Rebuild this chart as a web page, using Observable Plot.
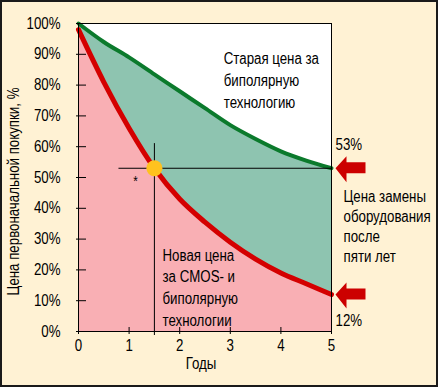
<!DOCTYPE html>
<html><head><meta charset="utf-8">
<script src="https://cdn.jsdelivr.net/npm/d3@7"></script>
<script src="https://cdn.jsdelivr.net/npm/@observablehq/plot@0.6"></script>
<style>
html,body{margin:0;padding:0;background:#FFF2D4;}
#wrap{position:relative;width:438px;height:387px;}
#border{position:absolute;left:0;top:0;width:438px;height:387px;box-sizing:border-box;border:2px solid #1a1a1a;pointer-events:none;}
</style></head><body><div id="wrap"><div id="chart"></div><div id="border"></div></div>
<script>
// ---- data ----
const years    = [0, 0.5, 1, 1.5, 2, 2.5, 3, 3.5, 4, 4.5, 5];
const oldPrice = [100, 94, 89, 83.5, 78, 72.5, 67, 62.5, 58.5, 55.5, 53];
const newPrice = [98, 81, 66, 53, 43, 35.5, 29, 23.5, 19, 15.5, 12];
const xTicks = [0, 1, 2, 3, 4, 5];
const yTicks = [0, 10, 20, 30, 40, 50, 60, 70, 80, 90, 100];
const markerX = 1.5, markerY = 53;
const endHigh = 53, endLow = 12;
const xLabel = "Годы";
const yLabel = "Цена первоначальной покупки, %";
const oldNote = "Старая цена за\nбиполярную\nтехнологию";
const newNote = "Новая цена\nза CMOS- и\nбиполярную\nтехнологии";
const sideNote = "Цена замены\nоборудования\nпосле\nпяти лет";

const rows = years.map((year, i) => ({year, oldPrice: oldPrice[i], newPrice: newPrice[i]}));

const FONT = '"Liberation Sans", Arial, sans-serif';
const PINK = "#F9AFB4", TEAL = "#8EC4B0", GREEN = "#0B7A2C", RED = "#D40000", ORANGE = "#FFC21E", ARROW = "#CC0000";
const curve = "monotone-x";

const arrowSymbol = {
  draw(ctx) {
    ctx.moveTo(0, 0); ctx.lineTo(11, -12); ctx.lineTo(11, -6); ctx.lineTo(30, -6);
    ctx.lineTo(30, 5); ctx.lineTo(11, 5); ctx.lineTo(11, 14); ctx.closePath();
  }
};

const chart = Plot.plot({
  width: 438, height: 387,
  marginLeft: 78, marginRight: 107, marginTop: 23, marginBottom: 56,
  style: {background: "#FFF2D4", fontFamily: FONT, fontSize: "16px", color: "#000", overflow: "visible"},
  x: {domain: [0, 5]},
  y: {domain: [0, 100]},
  marks: [
    Plot.frame({fill: "white", stroke: null}),
    Plot.areaY(rows, {x: "year", y: "newPrice", fill: PINK, curve}),
    Plot.areaY(rows, {x: "year", y1: "newPrice", y2: "oldPrice", fill: TEAL, curve}),
    Plot.line(rows, {x: "year", y: "oldPrice", stroke: GREEN, strokeWidth: 4, curve}),
    Plot.line(rows, {x: "year", y: "newPrice", stroke: RED, strokeWidth: 5, curve}),
    Plot.ruleY([markerY], {x1: 0.8, x2: 5, stroke: "black", strokeWidth: 1}),
    Plot.ruleX([markerX], {y1: 61, y2: -1.3, stroke: "black", strokeWidth: 1}),
    Plot.dot([markerY], {x: markerX, y: d => d, r: 8, fill: ORANGE, stroke: null}),
    Plot.text(["*"], {x: markerX, y: markerY, dx: -19, dy: 13, fontSize: 14}),
    Plot.frame({stroke: "black"}),
    Plot.axisY({ticks: yTicks, tickSize: 2, tickPadding: 16, tickFormat: d => d + "%", label: null}),
    Plot.axisY({ticks: yTicks, tickSize: -8, tickFormat: () => "", label: null}),
    Plot.axisX({ticks: xTicks, tickSize: 3, tickPadding: 5, tickFormat: d => String(d), label: null}),
    Plot.axisX({ticks: xTicks, tickSize: -4, tickFormat: () => "", label: null}),
    Plot.text([xLabel], {frameAnchor: "bottom", dx: -4, dy: 32, lineAnchor: "middle", textAnchor: "middle"}),
    Plot.text([yLabel], {frameAnchor: "left", rotate: -90, dx: -65, dy: 14, lineAnchor: "middle", textAnchor: "middle"}),
    Plot.text([oldNote], {x: 2.87, y: 91.8, textAnchor: "start", lineAnchor: "top", lineHeight: 1.37}),
    Plot.text([newNote], {x: 1.66, y: 28, textAnchor: "start", lineAnchor: "top", lineHeight: 1.36}),
    Plot.text([sideNote], {x: 5, y: 46.8, dx: 12, textAnchor: "start", lineAnchor: "top", lineHeight: 1.25}),
    Plot.text([endHigh], {x: 5, y: d => d, text: d => d + "%", dx: 4, dy: -23, textAnchor: "start", lineAnchor: "middle"}),
    Plot.text([endLow], {x: 5, y: d => d, text: d => d + "%", dx: 4, dy: 26, textAnchor: "start", lineAnchor: "middle"}),
    Plot.dot([endHigh, endLow], {x: 5, y: d => d, symbol: arrowSymbol, fill: ARROW, stroke: null, dx: 4})
  ]
});
document.getElementById("chart").appendChild(chart);

// condense the glyphs horizontally to mimic the narrow face of the original
const SQUEEZE = 0.83;
chart.querySelectorAll("text").forEach(t => {
  const spans = t.querySelectorAll("tspan");
  const targets = spans.length ? Array.from(spans) : [t];
  targets.forEach(el => {
    const len = el.getComputedTextLength();
    if (len > 0) {
      el.setAttribute("textLength", (len * SQUEEZE).toFixed(2));
      el.setAttribute("lengthAdjust", "spacingAndGlyphs");
    }
  });
});
</script>
</body></html>
